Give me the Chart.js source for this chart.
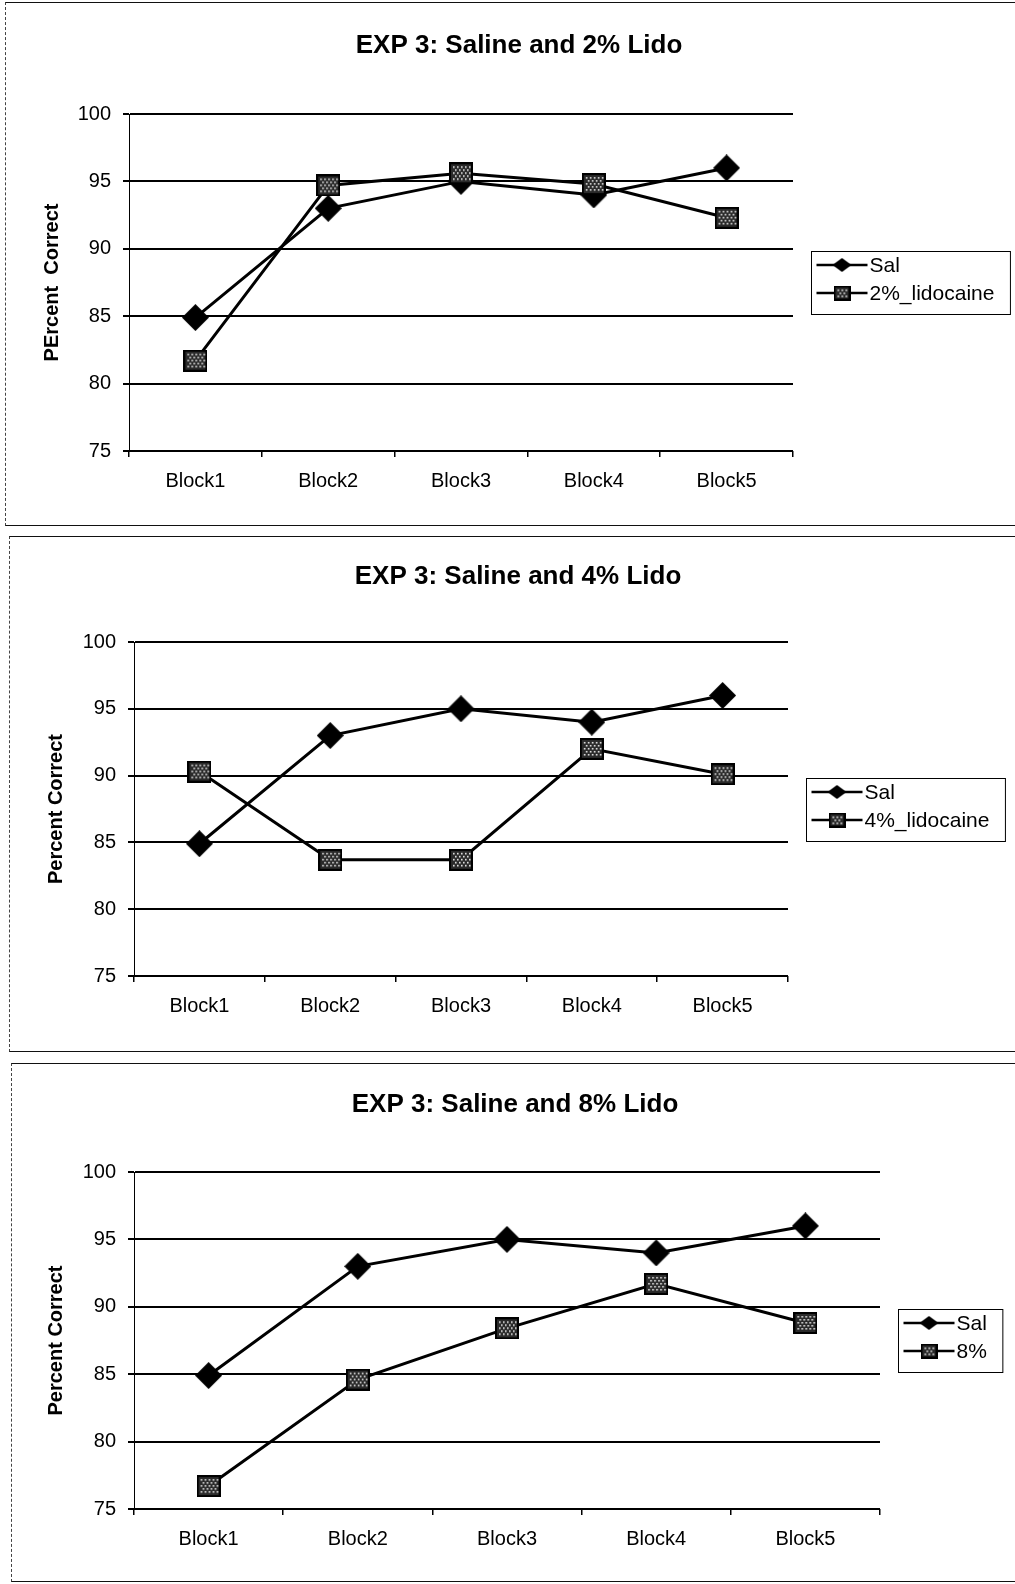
<!DOCTYPE html>
<html>
<head>
<meta charset="utf-8">
<title>EXP 3: Saline and Lido</title>
<script src="https://cdn.jsdelivr.net/npm/chart.js@4.4.1/dist/chart.umd.min.js"></script>
<style>
    html, body { margin: 0; padding: 0; background: #fff; }
    body { width: 1015px; height: 1584px; position: relative; overflow: hidden; }
    .frame {
        position: absolute;
        border-top: 1.5px solid #111;
        border-bottom: 1.5px solid #111;
        border-left: 1px dashed #444;
        box-sizing: border-box;
    }
    canvas { position: absolute; left: 0; }
</style>
</head>
<body>
<div class="frame" style="left:5px; top:2px; width:1030px; height:524px;"></div>
<div class="frame" style="left:9px; top:536px; width:1030px; height:516px;"></div>
<div class="frame" style="left:11px; top:1063px; width:1030px; height:519px;"></div>

<canvas id="chart1" width="1015" height="530" style="top:0px;"></canvas>
<canvas id="chart2" width="1015" height="527" style="top:530px;"></canvas>
<canvas id="chart3" width="1015" height="527" style="top:1057px;"></canvas>

<script>
// EXP 3 line charts: saline vs lidocaine doses

const FONT = '"Liberation Sans", Arial, Helvetica, sans-serif';

// Data
const blocks = ['Block1', 'Block2', 'Block3', 'Block4', 'Block5'];
const salValues = [84.9, 93.0, 95.0, 94.0, 96.0];
const lido2Values = [81.7, 94.7, 95.6, 94.8, 92.3];
const lido4Values = [90.3, 83.7, 83.7, 92.0, 90.1];
const lido8Values = [76.7, 84.6, 88.4, 91.7, 88.8];

const yMin = 75;
const yMax = 100;
const yStep = 5;

const panelTitles = ['EXP 3: Saline and 2% Lido', 'EXP 3: Saline and 4% Lido', 'EXP 3: Saline and 8% Lido'];
const yTitles = ['PErcent  Correct', 'Percent Correct', 'Percent Correct'];
const drugLabels = ['2%_lidocaine', '4%_lidocaine', '8%'];

// Marker images
function makeDiamond(w, h) {
    const c = document.createElement('canvas');
    c.width = w; c.height = h;
    const ctx = c.getContext('2d');
    ctx.fillStyle = '#000';
    ctx.beginPath();
    ctx.moveTo(w / 2, 0);
    ctx.lineTo(w, h / 2);
    ctx.lineTo(w / 2, h);
    ctx.lineTo(0, h / 2);
    ctx.closePath();
    ctx.fill();
    return c;
}

function makeStippleSquare(w, h) {
    const c = document.createElement('canvas');
    c.width = w; c.height = h;
    const ctx = c.getContext('2d');
    ctx.fillStyle = '#000';
    ctx.fillRect(0, 0, w, h);
    ctx.fillStyle = '#2a2a2a';
    ctx.fillRect(2, 2, w - 4, h - 4);
    ctx.fillStyle = '#e8e8e8';
    for (let y = 4, row = 0; y < h - 3; y += 3, row++) {
        for (let x = 4 + (row % 2) * 2; x < w - 3; x += 4) {
            ctx.fillRect(x, y, 1.6, 1.6);
        }
    }
    return c;
}

const diamondMark = makeDiamond(27, 27);
const squareMark = makeStippleSquare(24, 22);
const diamondLegend = makeDiamond(19, 14);
const squareLegend = makeStippleSquare(17, 15);

// Title and boxed legend, drawn after the chart
const panelDecor = {
    id: 'panelDecor',
    afterDraw(chart, args, opts) {
        const ctx = chart.ctx;
        const ca = chart.chartArea;
        ctx.save();

        // title
        ctx.fillStyle = '#000';
        ctx.font = 'bold 26px ' + FONT;
        ctx.textAlign = 'center';
        ctx.textBaseline = 'middle';
        ctx.fillText(opts.title, opts.titleX, opts.titleY);

        // legend
        ctx.font = '21px ' + FONT;
        const labels = chart.data.datasets.map(d => d.label);
        const textW = Math.max(...labels.map(l => ctx.measureText(l).width));
        const boxW = 58 + textW + 16;
        const boxH = 63;
        const bx = Math.round(ca.right + opts.legendGap) + 0.5;
        const by = Math.round((ca.top + ca.bottom) / 2 - boxH / 2) + 0.5;
        ctx.strokeStyle = '#000';
        ctx.lineWidth = 1;
        ctx.strokeRect(bx, by, boxW, boxH);

        const marks = [diamondLegend, squareLegend];
        labels.forEach((label, i) => {
            const ry = by + 13.5 + i * 28;
            ctx.lineWidth = 2.5;
            ctx.beginPath();
            ctx.moveTo(bx + 5, ry);
            ctx.lineTo(bx + 56, ry);
            ctx.stroke();
            const m = marks[i];
            ctx.drawImage(m, bx + 30.5 - m.width / 2, ry - m.height / 2);
            ctx.textAlign = 'left';
            ctx.fillText(label, bx + 58, ry + 1);
        });
        ctx.restore();
    }
};

// Build one panel
function makePanel(canvasId, idx, drugValues, geo) {
    const canvas = document.getElementById(canvasId);
    const H = canvas.height;
    return new Chart(canvas.getContext('2d'), {
        type: 'line',
        data: {
            labels: blocks,
            datasets: [{
                label: 'Sal',
                data: salValues,
                borderColor: '#000',
                borderWidth: 3,
                tension: 0,
                pointStyle: diamondMark,
                pointRadius: 10,
                order: 2,
                clip: false
            }, {
                label: drugLabels[idx],
                data: drugValues,
                borderColor: '#000',
                borderWidth: 3,
                tension: 0,
                pointStyle: squareMark,
                pointRadius: 10,
                order: 1,
                clip: false
            }]
        },
        options: {
            responsive: false,
            animation: false,
            events: [],
            layout: {
                padding: { left: 0, right: 1015 - geo.right, top: geo.top, bottom: 0 }
            },
            plugins: {
                legend: { display: false },
                title: { display: false },
                tooltip: { enabled: false },
                panelDecor: {
                    title: panelTitles[idx],
                    titleX: geo.titleX,
                    titleY: geo.titleY,
                    legendGap: 18
                }
            },
            scales: {
                x: {
                    type: 'category',
                    offset: true,
                    afterFit: (scale) => { scale.height = H - geo.bottom; },
                    grid: {
                        offset: true,
                        drawOnChartArea: false,
                        drawTicks: true,
                        tickLength: 6,
                        color: '#000',
                        lineWidth: 1.5
                    },
                    border: { display: false },
                    ticks: {
                        color: '#000',
                        padding: 12,
                        maxRotation: 0,
                        font: { family: FONT, size: 20 }
                    }
                },
                y: {
                    min: yMin,
                    max: yMax,
                    afterFit: (scale) => { scale.width = geo.left; },
                    ticks: {
                        stepSize: yStep,
                        color: '#000',
                        padding: 12,
                        font: { family: FONT, size: 20 }
                    },
                    grid: {
                        color: '#000',
                        lineWidth: 2,
                        drawTicks: true,
                        tickLength: 6
                    },
                    border: { display: true, color: '#000', width: 1 },
                    title: {
                        display: true,
                        text: yTitles[idx],
                        color: '#000',
                        padding: { top: geo.yTitleX - 12, bottom: 0 },
                        font: { family: FONT, size: 20, weight: 'bold' }
                    }
                }
            }
        },
        plugins: [panelDecor]
    });
}

document.addEventListener('DOMContentLoaded', () => {
    makePanel('chart1', 0, lido2Values, { left: 129, right: 793, top: 114, bottom: 451, titleX: 519, titleY: 45.5, yTitleX: 52 });
    makePanel('chart2', 1, lido4Values, { left: 134, right: 788, top: 112, bottom: 446, titleX: 518, titleY: 47, yTitleX: 56 });
    makePanel('chart3', 2, lido8Values, { left: 134, right: 880, top: 115, bottom: 452, titleX: 515, titleY: 47.5, yTitleX: 56 });
});
</script>
</body>
</html>
